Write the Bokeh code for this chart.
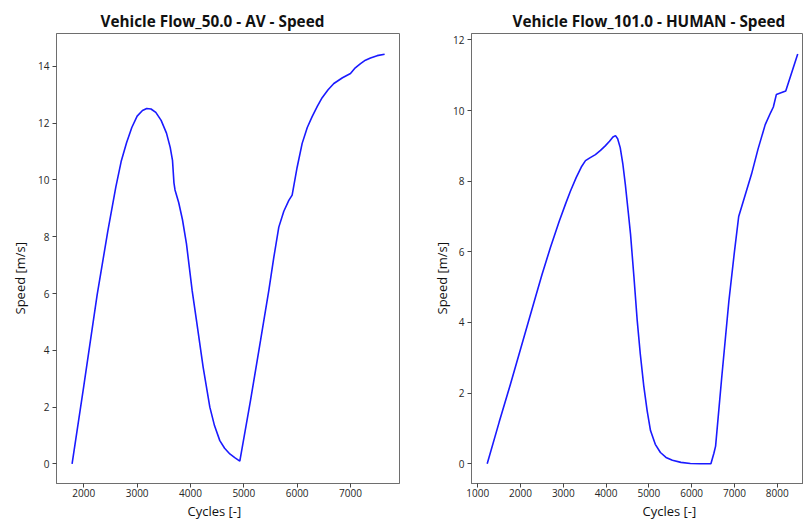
from bokeh.plotting import figure
from bokeh.layouts import row
from bokeh.models import FixedTicker, Range1d, Title
from bokeh.embed import file_html
from bokeh.resources import INLINE

# ---- data: AV, flow 50.0 ----
cycles_av = [1780, 2000, 2250, 2450, 2600, 2700, 2800, 2900, 3000, 3100, 3180, 3260,
             3350, 3450, 3550, 3620, 3663, 3690, 3710, 3780, 3850, 3925, 4031, 4113,
             4238, 4363, 4450, 4550, 4640, 4738, 4830, 4925, 5125, 5313, 5469, 5563,
             5656, 5750, 5844, 5906, 6000, 6094, 6190, 6281, 6380, 6469, 6580, 6688,
             6850, 7000, 7090, 7188, 7280, 7375, 7500, 7640]
speed_av = [0.0, 2.75, 5.95, 8.2, 9.75, 10.65, 11.3, 11.85, 12.25, 12.45, 12.52, 12.5,
            12.38, 12.1, 11.65, 11.15, 10.69, 9.9, 9.65, 9.2, 8.6, 7.75, 6.11, 5.05,
            3.4, 2.0, 1.35, 0.82, 0.55, 0.35, 0.22, 0.1, 2.23, 4.34, 6.11, 7.28,
            8.34, 8.9, 9.28, 9.47, 10.45, 11.29, 11.85, 12.23, 12.6, 12.9, 13.18, 13.4,
            13.6, 13.75, 13.95, 14.1, 14.22, 14.3, 14.38, 14.43]

# ---- data: HUMAN, flow 101.0 ----
cycles_h = [1220, 1500, 1765, 2000, 2309, 2500, 2700, 2900, 3050, 3167, 3300, 3420,
            3518, 3620, 3750, 3869, 3980, 4080, 4160, 4220, 4270, 4330, 4390, 4450,
            4520, 4571, 4650, 4727, 4800, 4881, 4960, 5038, 5150, 5270, 5400, 5550,
            5750, 5970, 6200, 6450, 6520, 6560, 6700, 6870, 7000, 7100, 7250, 7400,
            7550, 7720, 7850, 7910, 7980, 8200, 8480]
speed_h = [0.0, 1.18, 2.26, 3.25, 4.55, 5.35, 6.13, 6.85, 7.35, 7.72, 8.1, 8.4,
           8.58, 8.66, 8.75, 8.87, 9.0, 9.13, 9.25, 9.29, 9.2, 8.95, 8.5, 7.9,
           7.1, 6.5, 5.3, 4.06, 3.1, 2.2, 1.5, 0.94, 0.55, 0.32, 0.18, 0.1,
           0.04, 0.01, 0.0, 0.0, 0.3, 0.5, 2.4, 4.6, 6.0, 7.0, 7.6, 8.2,
           8.9, 9.6, 9.95, 10.1, 10.45, 10.55, 11.6]

xticks_av = [2000, 3000, 4000, 5000, 6000, 7000]
yticks_av = [0, 2, 4, 6, 8, 10, 12, 14]
xticks_h = [1000, 2000, 3000, 4000, 5000, 6000, 7000, 8000]
yticks_h = [0, 2, 4, 6, 8, 10, 12]

FONT = "Open Sans"
FRAME = "#6e6e6e"


def make(title, xs, ys, xr, yr, xt, yt, width, bl, br, toff, xoff, yoff, ystand):
    p = figure(width=width, height=525, output_backend="svg", toolbar_location=None,
               x_range=Range1d(*xr), y_range=Range1d(*yr),
               min_border_left=bl, min_border_right=br,
               min_border_top=33, min_border_bottom=42)
    p.title.text = title
    p.title.text_font = FONT
    p.title.text_font_size = "15.3px"
    p.title.text_font_style = "bold"
    p.title.text_color = "#111111"
    p.title.align = "left"
    p.title.offset = toff
    p.title.standoff = 5
    p.line(xs, ys, line_color="#1a1aff", line_width=1.6)
    p.grid.visible = False
    p.outline_line_color = FRAME
    p.outline_line_width = 1
    for ax, ticks in ((p.xaxis[0], xt), (p.yaxis[0], yt)):
        ax.ticker = FixedTicker(ticks=ticks, minor_ticks=[])
        ax.axis_line_color = FRAME
        ax.major_tick_line_color = "#444444"
        ax.major_tick_in = 0
        ax.major_tick_out = 4
        ax.minor_tick_line_color = None
        ax.major_label_text_font = FONT
        ax.major_label_text_font_size = "10px"
        ax.major_label_text_color = "#262626"
        ax.major_label_standoff = 3
    p.xaxis.major_label_standoff = 1
    xl = Title(text="Cycles [-]", align="left", offset=xoff, standoff=0,
               text_font=FONT, text_font_size="13px", text_font_style="normal",
               text_color="#111111", text_line_height=1.0)
    p.add_layout(xl, "below")
    yl = Title(text="Speed [m/s]", align="left", offset=yoff, standoff=ystand,
               text_font=FONT, text_font_size="13px", text_font_style="normal",
               text_color="#111111")
    p.add_layout(yl, "left")
    return p


p1 = make("Vehicle Flow_50.0 - AV - Speed", cycles_av, speed_av,
          (1488, 7919), (-0.69, 15.16), xticks_av, yticks_av, 420, 56, 21,
          44, 131, 169, 13)
p2 = make("Vehicle Flow_101.0 - HUMAN - Speed", cycles_h, speed_h,
          (853, 8615), (-0.558, 12.18), xticks_h, yticks_h, 383, 51, 0,
          41, 171, 169, 0)

layout = row(p1, p2)
open("out.html", "w").write(file_html(layout, INLINE))
